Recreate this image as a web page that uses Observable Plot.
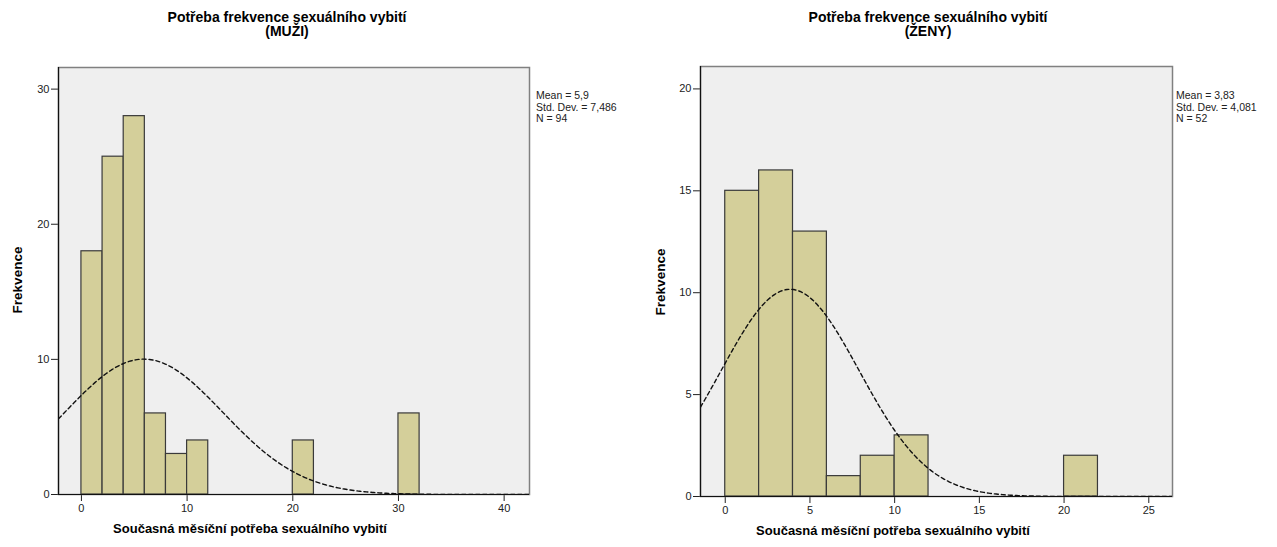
<!DOCTYPE html>
<html>
<head>
<meta charset="utf-8">
<script src="https://cdn.jsdelivr.net/npm/d3@7"></script>
<script src="https://cdn.jsdelivr.net/npm/@observablehq/plot@0.6"></script>
<style>
  body { margin: 0; background: #fff; font-family: "Liberation Sans", Arial, sans-serif; }
  #wrap { position: relative; width: 1277px; height: 547px; overflow: hidden; }
  .chart { position: absolute; top: 0; }
  .title { position: absolute; font-weight: bold; font-size: 14px; line-height: 14px; text-align: center; color: #000; white-space: nowrap; transform: translateX(-50%); }
  .xlab { position: absolute; font-weight: bold; font-size: 13px; color: #000; white-space: nowrap; transform: translate(-50%, -50%); }
  .ylab { position: absolute; font-weight: bold; font-size: 13.5px; color: #000; white-space: nowrap; transform: translate(-50%, -50%) rotate(-90deg); }
  .stats { position: absolute; font-size: 10.5px; line-height: 11.5px; color: #222; white-space: nowrap; }
</style>
</head>
<body>
<div id="wrap"></div>
<script>
// ---- data ----
const binWidth = 2;
const menBinStarts = [0, 2, 4, 6, 8, 10, 20, 30];
const menCounts = [18, 25, 28, 6, 3, 4, 4, 6];
const menMean = 5.9, menSD = 7.486, menN = 94;
const menXTicks = [0, 10, 20, 30, 40];
const menYTicks = [0, 10, 20, 30];

const womenBinStarts = [0, 2, 4, 6, 8, 10, 20];
const womenCounts = [15, 16, 13, 1, 2, 3, 2];
const womenMean = 3.83, womenSD = 4.081, womenN = 52;
const womenXTicks = [0, 5, 10, 15, 20, 25];
const womenYTicks = [0, 5, 10, 15, 20];

const titleMain = "Potřeba frekvence sexuálního vybití";
const menSub = "(MUŽI)";
const womenSub = "(ŽENY)";
const xTitle = "Současná měsíční potřeba sexuálního vybití";
const yTitle = "Frekvence";
const menStatsText = ["Mean = 5,9", "Std. Dev. = 7,486", "N = 94"];
const womenStatsText = ["Mean = 3,83", "Std. Dev. = 4,081", "N = 52"];

const wrap = document.getElementById("wrap");

function normalCurve(mean, sd, n, x0, x1) {
  const k = n * binWidth / (sd * Math.sqrt(2 * Math.PI));
  return d3.range(0, 301).map(i => {
    const x = x0 + (x1 - x0) * i / 300;
    return {x, y: k * Math.exp(-0.5 * ((x - mean) / sd) ** 2)};
  });
}

function drawChart(cfg) {
  const bars = cfg.starts.map((s, i) => ({x1: s, x2: s + binWidth, y: cfg.counts[i]}));
  const curve = normalCurve(cfg.mean, cfg.sd, cfg.n, cfg.xdom[0], cfg.xdom[1]);
  const chart = Plot.plot({
    width: cfg.width,
    height: 547,
    marginLeft: cfg.ml,
    marginRight: cfg.mr,
    marginTop: cfg.mt,
    marginBottom: cfg.mb,
    style: {fontFamily: "'Liberation Sans', Arial, sans-serif", fontSize: "11px", color: "#222", background: "transparent"},
    x: {domain: cfg.xdom, ticks: cfg.xticks, tickSize: 7, tickPadding: 3, label: null},
    y: {domain: cfg.ydom, ticks: cfg.yticks, tickSize: 7, tickPadding: 2, label: null},
    marks: [
      Plot.frame({fill: "#efefef", stroke: "#808080", strokeWidth: 1.5}),
      Plot.rectY(bars, {x1: "x1", x2: "x2", y: "y", fill: "#d4cf9a", stroke: "#3a3a3a", strokeWidth: 1.2}),
      Plot.line(curve, {x: "x", y: "y", stroke: "#111", strokeWidth: 1.4, strokeDasharray: "4,3", clip: true}),
      Plot.ruleY([0], {stroke: "#111", strokeWidth: 1.2}),
      Plot.ruleX([cfg.xdom[0]], {stroke: "#111", strokeWidth: 1.2})
    ]
  });
  chart.classList.add("chart");
  chart.style.left = cfg.left + "px";
  wrap.appendChild(chart);

  const t = document.createElement("div");
  t.className = "title";
  t.style.left = cfg.titleX + "px";
  t.style.top = "10px";
  t.innerHTML = titleMain + "<br>" + cfg.sub;
  wrap.appendChild(t);

  const xl = document.createElement("div");
  xl.className = "xlab";
  xl.style.left = cfg.xlabX + "px";
  xl.style.top = cfg.xlabY + "px";
  xl.textContent = xTitle;
  wrap.appendChild(xl);

  const yl = document.createElement("div");
  yl.className = "ylab";
  yl.style.left = cfg.ylabX + "px";
  yl.style.top = cfg.ylabY + "px";
  yl.textContent = yTitle;
  wrap.appendChild(yl);

  const st = document.createElement("div");
  st.className = "stats";
  st.style.left = cfg.statsX + "px";
  st.style.top = "90px";
  st.innerHTML = cfg.stats.join("<br>");
  wrap.appendChild(st);
}

drawChart({
  left: 0, width: 640, ml: 58, mr: 111, mt: 67, mb: 53,
  xdom: [-2.17, 42.4], ydom: [0, 31.6],
  xticks: menXTicks, yticks: menYTicks,
  starts: menBinStarts, counts: menCounts,
  mean: menMean, sd: menSD, n: menN,
  sub: menSub, titleX: 287, xlabX: 250, xlabY: 528, ylabX: 17, ylabY: 280,
  statsX: 536, stats: menStatsText
});

drawChart({
  left: 640, width: 637, ml: 60, mr: 105, mt: 66, mb: 51,
  xdom: [-1.46, 26.4], ydom: [0, 21.1],
  xticks: womenXTicks, yticks: womenYTicks,
  starts: womenBinStarts, counts: womenCounts,
  mean: womenMean, sd: womenSD, n: womenN,
  sub: womenSub, titleX: 928, xlabX: 893, xlabY: 530, ylabX: 660, ylabY: 282,
  statsX: 1176, stats: womenStatsText
});
</script>
</body>
</html>
